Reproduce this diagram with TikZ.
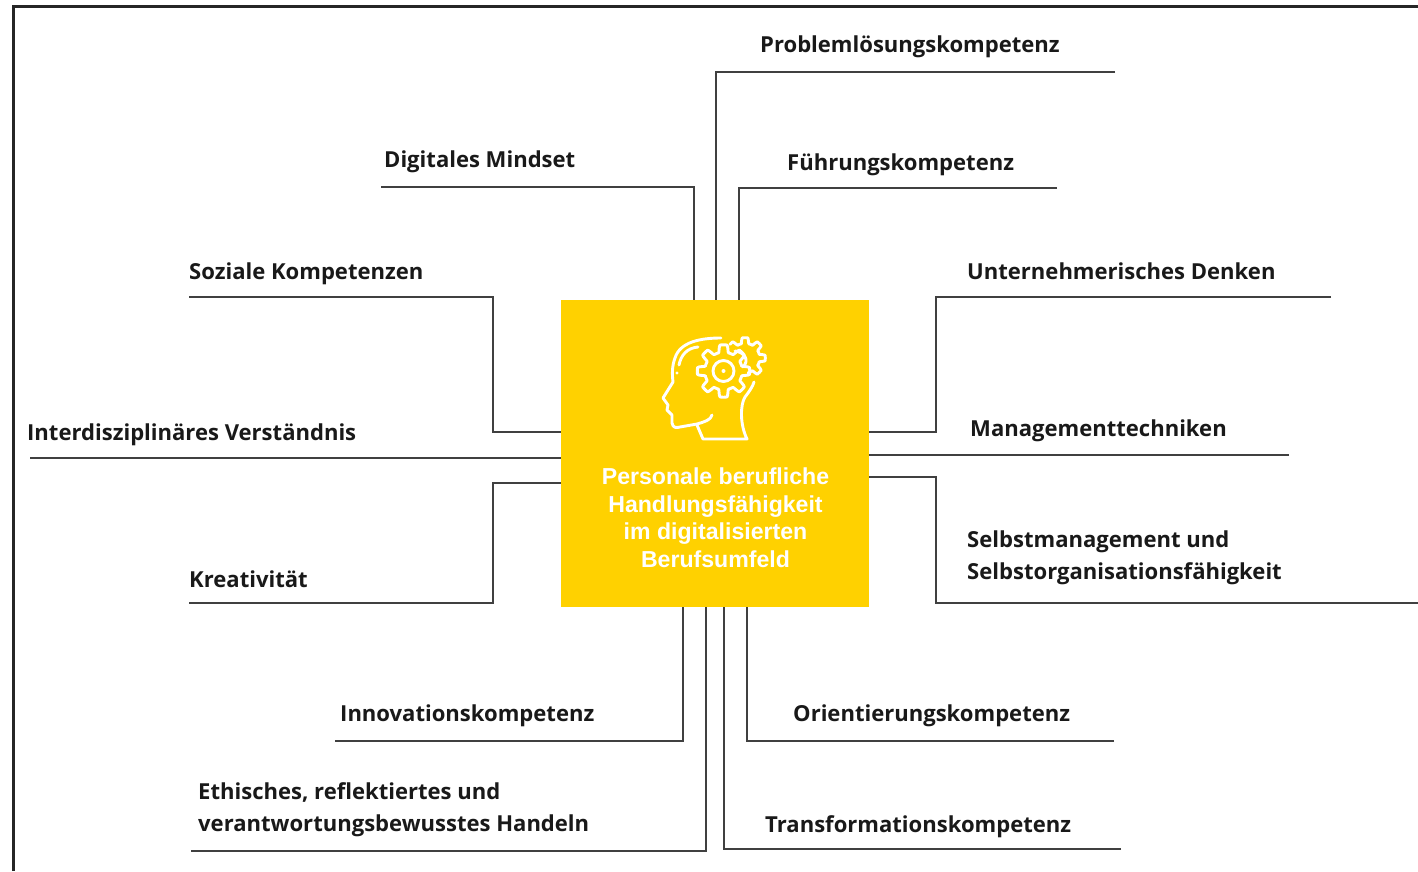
\documentclass[tikz,border=0pt]{standalone}
\usepackage{fontspec}
\usepackage{xcolor}
\setmainfont{Open Sans}
\newfontfamily\corefont{Liberation Sans}
\definecolor{coreyellow}{HTML}{FFD100}
\definecolor{linegrey}{HTML}{404040}
\tikzset{
  skill/.style={anchor=base west, inner sep=0pt, align=left, text=black!90,
    font=\fontsize{22.05}{32}\selectfont\bfseries},
  link/.style={draw=linegrey, line width=1.3pt},
  iconline/.style={draw=white, line width=2.9pt, line cap=round, line join=round}
}
\begin{document}
\begin{tikzpicture}[x=1pt,y=-1pt]
\useasboundingbox (0,0) rectangle (1418,871);
% frame
\coordinate (frameA) at (13,871);
\coordinate (frameB) at (13,6);
\coordinate (frameC) at (1418,6);
\draw[black!85, line width=3pt] (frameA) -- (frameB) -- (frameC);

\node (core) [fill=coreyellow, minimum size=307.5pt, inner sep=0pt, outer sep=0pt] at (715,453.5) {};
\node (coreText) [text=white, align=center, inner sep=0pt, font=\fontsize{23.1}{27.5}\selectfont\corefont\bfseries] at (715.5,517.5)
{Personale berufliche\\Handlungsfähigkeit\\im digitalisierten\\Berufsumfeld};

% labels
\node (problem) [skill] at (760,52) {Problemlösungskompetenz};
\node (fuehrung) [skill] at (787,170.5) {Führungskompetenz};
\node (mindset) [skill] at (384,167.5) {Digitales Mindset};
\node (sozial) [skill] at (189,279) {Soziale Kompetenzen};
\node (unternehmer) [skill] at (967,279) {Unternehmerisches Denken};
\node (management) [skill] at (970,436.5) {Managementtechniken};
\node (interdisz) [skill] at (27,440.5) {Interdisziplinäres Verständnis};
\node (selbst) [skill] at (967,579) {Selbstmanagement und\\Selbstorganisationsfähigkeit};
\node (kreativ) [skill] at (189,587.5) {Kreativität};
\node (innovation) [skill] at (340,721) {Innovationskompetenz};
\node (orient) [skill] at (793,721) {Orientierungskompetenz};
\node (ethik) [skill] at (198,831) {Ethisches, reflektiertes und\\verantwortungsbewusstes Handeln};
\node (transform) [skill] at (765,832) {Transformationskompetenz};

% free ends of the connectors
\coordinate (problemEnd) at (1115,72);
\coordinate (fuehrungEnd) at (1057,188);
\coordinate (mindsetEnd) at (381,187);
\coordinate (sozialEnd) at (189,297);
\coordinate (sozialBend) at (493,432);
\coordinate (unternehmerEnd) at (1331,297);
\coordinate (unternehmerBend) at (936,432);
\coordinate (managementEnd) at (1289,455);
\coordinate (interdiszEnd) at (30,458);
\coordinate (selbstEnd) at (1418,603);
\coordinate (selbstBend) at (936,477);
\coordinate (kreativEnd) at (189,603);
\coordinate (kreativBend) at (493,483);
\coordinate (innovationEnd) at (335,741);
\coordinate (orientEnd) at (1114,741);
\coordinate (ethikEnd) at (191,851);
\coordinate (transformEnd) at (1121,849);

\draw[link] (problemEnd) -| ([xshift=1pt]core.north);
\draw[link] (fuehrungEnd) -| ([xshift=24pt]core.north);
\draw[link] (mindsetEnd) -| ([xshift=-21pt]core.north);
\draw[link] (sozialEnd) -| (sozialBend) -- (sozialBend -| core.west);
\draw[link] (unternehmerEnd) -| (unternehmerBend) -- (unternehmerBend -| core.east);
\draw[link] (managementEnd) -- (managementEnd -| core.east);
\draw[link] (interdiszEnd) -- (interdiszEnd -| core.west);
\draw[link] (selbstEnd) -| (selbstBend) -- (selbstBend -| core.east);
\draw[link] (kreativEnd) -| (kreativBend) -- (kreativBend -| core.west);
\draw[link] (innovationEnd) -| ([xshift=-32pt]core.south);
\draw[link] (orientEnd) -| ([xshift=32pt]core.south);
\draw[link] (ethikEnd) -| ([xshift=-9pt]core.south);
\draw[link] (transformEnd) -| ([xshift=9pt]core.south);

% head icon
\draw[iconline] (721,338) .. controls (700,338) and (680,342) .. (675,358) .. controls (672,366) and (672,374) .. (673,382)
  -- (663,398) -- (668,405) -- (667,410) -- (672,415) -- (672,423) .. controls (673,428) and (676,428) .. (680,427)
  -- (697,424) .. controls (704,422) and (711,420) .. (712,415);
\draw[iconline] (697,425) -- (703,439) -- (747,439) .. controls (740,425) and (740,405) .. (745,397) .. controls (749,392) and (753,386) .. (754,382);
\draw[iconline] (698,347) .. controls (687,348) and (681,355) .. (679,365);
\fill[white] (677,373) circle (1.7);
\draw[iconline, shift={(723.5,371)}] plot[domain=0:360, samples=193] (\x:{22.5+3.7*max(-1,min(1,2.5*cos(8*\x)))}) -- cycle;
\draw[iconline] (723.5,371) circle (10.5);
\fill[white] (723.5,371) circle (2);
\draw[iconline, shift={(745,358)}] plot[domain=-138:78, samples=97] (\x:{17.5+2.8*max(-1,min(1,2.5*cos(8*\x)))});
\draw[iconline] (735,351) .. controls (744,352) and (750,360) .. (743,367);
\end{tikzpicture}
\end{document}
